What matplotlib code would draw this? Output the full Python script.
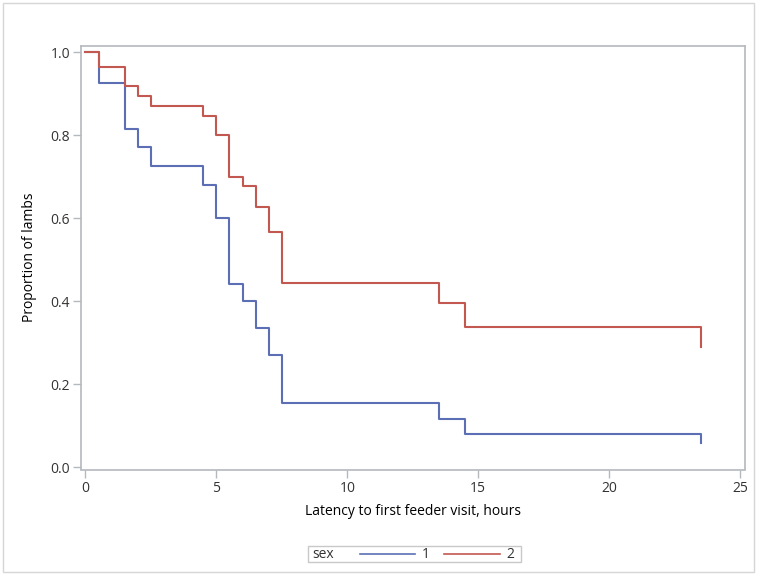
import matplotlib
matplotlib.use("Agg")
import matplotlib.pyplot as plt
from matplotlib.lines import Line2D
from matplotlib.patches import Rectangle

plt.rcParams['font.family'] = ['Open Sans', 'DejaVu Sans']

# Data (Kaplan-Meier style step curves)
times = [0, 0.5, 1.5, 2.0, 2.5, 4.5, 5.0, 5.5, 6.0, 6.5, 7.0, 7.5, 13.5, 14.5, 23.5]
sex1 = [1.0, 0.925, 0.815, 0.77, 0.725, 0.68, 0.60, 0.44, 0.40, 0.335, 0.27, 0.155, 0.115, 0.08, 0.058]
sex2 = [1.0, 0.965, 0.917, 0.894, 0.87, 0.847, 0.80, 0.70, 0.677, 0.626, 0.566, 0.443, 0.396, 0.337, 0.29]
series_labels = ["1", "2"]
x_ticks = [0, 5, 10, 15, 20, 25]
y_ticks = [0.0, 0.2, 0.4, 0.6, 0.8, 1.0]

blue = '#5c6fb5'
red = '#c25850'
frame = '#b4b9bd'
txt = '#333333'

W, H = 764, 576
fig = plt.figure(figsize=(W / 100, H / 100), dpi=100)
ax = fig.add_axes([81.3 / W, 1 - 469.5 / H, (745 - 81.3) / W, (469.5 - 45.5) / H])

ax.step(times, sex1, where='post', color=blue, lw=1.5)
ax.step(times, sex2, where='post', color=red, lw=1.5)

ax.set_xlim(-0.16, 25.19)
ax.set_ylim(-0.006, 1.0157)
ax.set_xticks(x_ticks)
ax.set_xticklabels([str(t) for t in x_ticks])
ax.set_yticks(y_ticks)
ax.set_yticklabels([f"{t:.1f}" for t in y_ticks])

for s in ax.spines.values():
    s.set_color(frame)
    s.set_linewidth(1.2)
ax.tick_params(axis='both', colors=frame, length=6, width=1, labelcolor=txt, labelsize=10, pad=2)

ax.set_xlabel("Latency to first feeder visit, hours", fontsize=10, color='black', labelpad=6)
ax.set_ylabel("Proportion of lambs", fontsize=10, color='black', labelpad=10)

# Legend box (figure coords)
lx0, lx1, ly0, ly1 = 308.3, 520.7, 546, 562.3
fig.patches.append(Rectangle((lx0 / W, 1 - ly1 / H), (lx1 - lx0) / W, (ly1 - ly0) / H,
                             transform=fig.transFigure, fill=False, edgecolor='#c8c8c8', lw=1))
ymid = 1 - (ly0 + ly1) / 2 / H
fig.text(312.7 / W, ymid, "sex", fontsize=10, color=txt, va='center', ha='left')
fig.lines.append(Line2D([360 / W, 415 / W], [ymid, ymid], transform=fig.transFigure, color=blue, lw=1.2))
fig.text(426 / W, ymid, series_labels[0], fontsize=10, color=txt, va='center', ha='center')
fig.lines.append(Line2D([444 / W, 500 / W], [ymid, ymid], transform=fig.transFigure, color=red, lw=1.2))
fig.text(510 / W, ymid, series_labels[1], fontsize=10, color=txt, va='center', ha='center')

# Outer border
fig.patches.append(Rectangle((3 / W, 1 - 572 / H), (754 - 3) / W, (572 - 3) / H,
                             transform=fig.transFigure, fill=False, edgecolor='#d6d6d6', lw=1))

fig.savefig("out.png", dpi=100)
